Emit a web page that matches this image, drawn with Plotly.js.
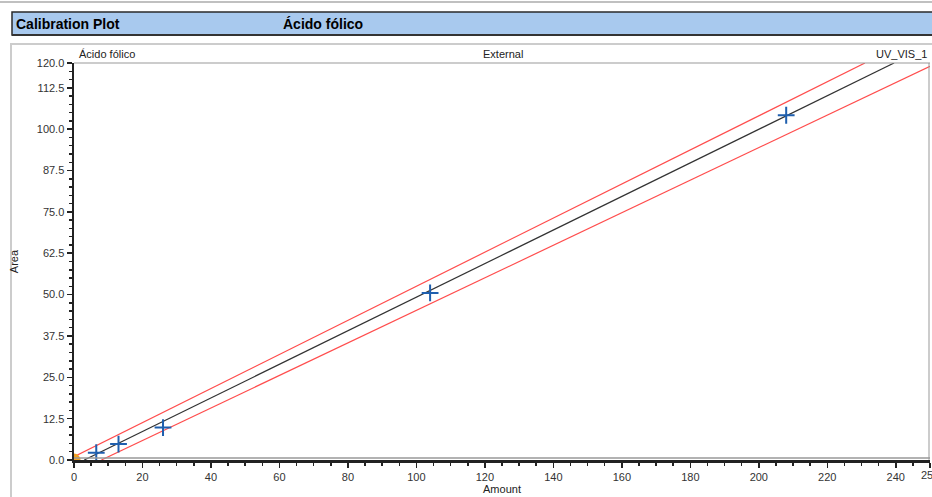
<!DOCTYPE html>
<html>
<head>
<meta charset="utf-8">
<script src="https://cdn.plot.ly/plotly-3.0.1.min.js"></script>
<style>
html,body{margin:0;padding:0;background:#fff;overflow:hidden;}
#chart{width:932px;height:497px;}
</style>
</head>
<body>
<div id="chart"></div>
<script>
// ---- data ----
var amount = [6.5, 13, 26, 104, 208];
var area = [2.2, 4.8, 9.8, 50.5, 104.2];
var fitX = [3.0, 239.5];
var fitY = [0, 120];
var upperX = [0, 231];
var upperY = [1.0, 120];
var lowerX = [8.0, 250];
var lowerY = [0, 119.0];
var originX = [0];
var originY = [0];
var xTicks = [0, 20, 40, 60, 80, 100, 120, 140, 160, 180, 200, 220, 240, 250];
var yTicks = [0, 12.5, 25, 37.5, 50, 62.5, 75, 87.5, 100, 112.5, 120];
var yTickText = ["0.0", "12.5", "25.0", "37.5", "50.0", "62.5", "75.0", "87.5", "100.0", "112.5", "120.0"];
var lastXLabel = "250";
var headerTitle = "Calibration Plot";
var compound = "Ácido fólico";
var calibType = "External";
var channel = "UV_VIS_1";

// ---- layout geometry (pixels) ----
var W = 932, H = 497;
var M = {l: 74, r: 2, t: 63, b: 37};
var PW = W - M.l - M.r, PH = H - M.t - M.b;
function px(x) { return (x - M.l) / PW; }
function py(y) { return (H - M.b - y) / PH; }

var font = "Liberation Sans, Arial, sans-serif";

var traces = [
  {x: upperX, y: upperY, mode: "lines", line: {color: "#ff4d4d", width: 1.2}, hoverinfo: "skip", showlegend: false},
  {x: lowerX, y: lowerY, mode: "lines", line: {color: "#ff4d4d", width: 1.2}, hoverinfo: "skip", showlegend: false},
  {x: fitX, y: fitY, mode: "lines", line: {color: "#333333", width: 1.2}, hoverinfo: "skip", showlegend: false},
  {x: originX, y: originY, mode: "markers", marker: {symbol: "circle", size: 13, color: "#f0a020"}, cliponaxis: true, showlegend: false},
  {x: amount, y: area, mode: "markers", marker: {symbol: "cross-thin", size: 12, line: {color: "#1f5fae", width: 2}}, cliponaxis: false, showlegend: false}
];

var shapes = [
  // top thin gray rule
  {type: "line", xref: "paper", yref: "paper", x0: px(0), x1: px(W), y0: py(2), y1: py(2), line: {color: "#c0c0c0", width: 2}},
  // header bar
  {type: "rect", xref: "paper", yref: "paper", x0: px(12), x1: px(W + 5), y0: py(35), y1: py(12), fillcolor: "#a8c9ee", line: {color: "#2a2a2a", width: 1.5}, layer: "below"},
  {type: "line", xref: "paper", yref: "paper", x0: px(12), x1: px(W + 5), y0: py(35), y1: py(35), line: {color: "#333", width: 2}},
  // outer panel
  {type: "rect", xref: "paper", yref: "paper", x0: px(11), x1: px(W + 5), y0: py(H + 5), y1: py(44), line: {color: "#cccccc", width: 2}, layer: "below"},
  // plot frame (top & right)
  {type: "line", xref: "paper", yref: "paper", x0: 0, x1: 1, y0: 1, y1: 1, line: {color: "#999", width: 1}},
  {type: "line", xref: "paper", yref: "paper", x0: px(929), x1: px(929), y0: 0, y1: 1, line: {color: "#999", width: 1}},
  // double bottom axis line
  {type: "line", xref: "paper", yref: "paper", x0: 0, x1: 1, y0: py(458), y1: py(458), line: {color: "#999", width: 1.5}}
];

var annotations = [
  {text: "<b>" + headerTitle + "</b>", xref: "paper", yref: "paper", x: px(14), y: py(23.5), xanchor: "left", yanchor: "middle", showarrow: false, font: {family: "Liberation Sans, Arial", size: 14, color: "#000"}},
  {text: "<b>" + compound + "</b>", xref: "paper", yref: "paper", x: px(281), y: py(23.5), xanchor: "left", yanchor: "middle", showarrow: false, font: {family: "Liberation Sans, Arial", size: 14, color: "#000"}},
  {text: compound, xref: "paper", yref: "paper", x: px(77), y: py(54), xanchor: "left", yanchor: "middle", showarrow: false, font: {family: font, size: 11, color: "#222"}},
  {text: calibType, xref: "paper", yref: "paper", x: px(503), y: py(54), xanchor: "center", yanchor: "middle", showarrow: false, font: {family: font, size: 11, color: "#222"}},
  {text: channel, xref: "paper", yref: "paper", x: px(929), y: py(54), xanchor: "right", yanchor: "middle", showarrow: false, font: {family: font, size: 11, color: "#222"}},
  {text: lastXLabel, xref: "x", yref: "paper", x: xTicks[xTicks.length - 1], y: py(475), xanchor: "center", yanchor: "middle", showarrow: false, font: {family: font, size: 11, color: "#333"}}
];

var layout = {
  width: W, height: H,
  margin: M,
  paper_bgcolor: "#ffffff",
  plot_bgcolor: "#ffffff",
  showlegend: false,
  xaxis: {
    range: [0, 250], autorange: false,
    tickmode: "array", tickvals: xTicks,
    ticks: "outside", ticklen: 5, tickwidth: 1.5, tickcolor: "#222",
    minor: {dtick: 5, tick0: 0, ticks: "outside", ticklen: 3, tickwidth: 1.5, tickcolor: "#222", showgrid: false},
    showline: true, linecolor: "#222", linewidth: 2.5,
    showgrid: false, zeroline: false,
    tickfont: {family: font, size: 11, color: "#333"},
    title: {text: "Amount", font: {family: font, size: 11, color: "#222"}, standoff: 2}
  },
  yaxis: {
    range: [0, 120], autorange: false,
    tickmode: "array", tickvals: yTicks, ticktext: yTickText,
    ticks: "outside", ticklen: 5, tickwidth: 1.5, tickcolor: "#222",
    minor: {dtick: 2.5, tick0: 0, ticks: "outside", ticklen: 3, tickwidth: 1.5, tickcolor: "#222", showgrid: false},
    showline: true, linecolor: "#222", linewidth: 2.5,
    showgrid: false, zeroline: false,
    tickfont: {family: font, size: 11, color: "#333"},
    title: {text: "Area", font: {family: font, size: 11, color: "#222"}, standoff: 16}
  },
  shapes: shapes,
  annotations: annotations
};

Plotly.newPlot("chart", traces, layout, {displayModeBar: false, staticPlot: true});
</script>
</body>
</html>
